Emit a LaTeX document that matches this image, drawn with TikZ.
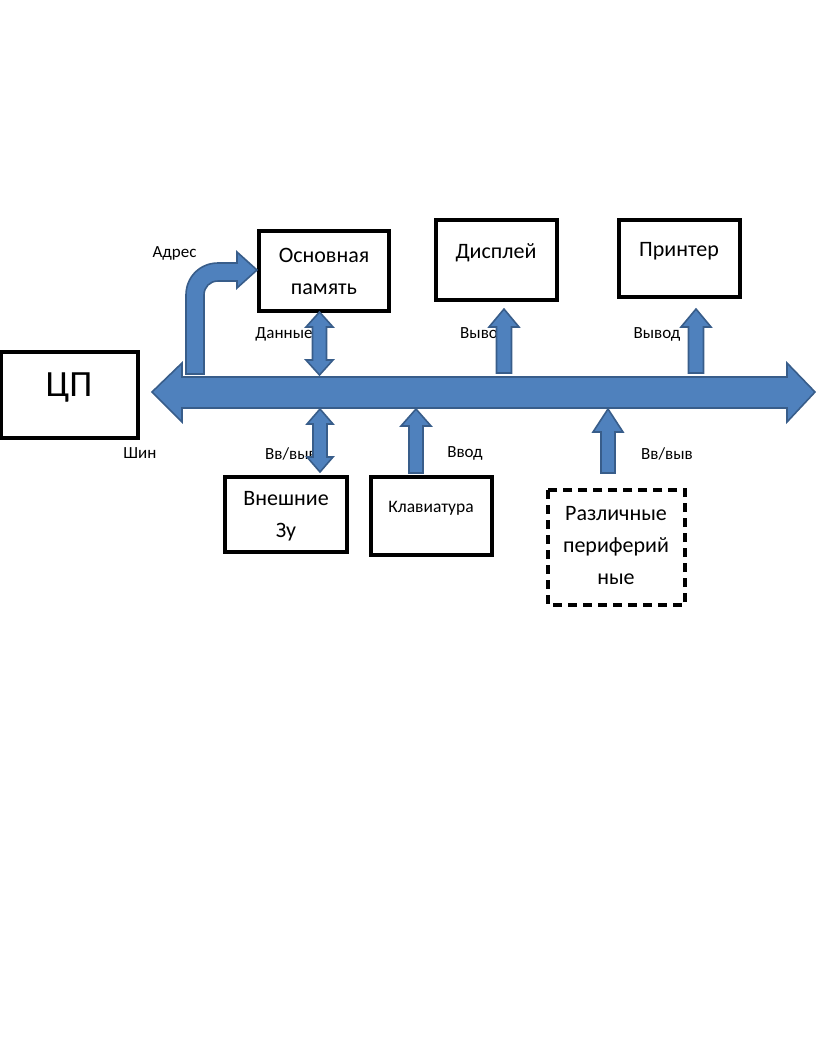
\documentclass[tikz,border=0pt]{standalone}
\usepackage{fontspec}
\setmainfont{Carlito}
\definecolor{arrfill}{HTML}{4F81BD}
\definecolor{arrdraw}{HTML}{385D8A}
\begin{document}
\begin{tikzpicture}[x=1pt,y=-1pt,
  box/.style={draw=black,line width=3.2pt,fill=white},
  dbox/.style={draw=black,line width=3.2pt,dash pattern=on 9pt off 6pt,fill=white},
  blk/.style={fill=arrfill,draw=arrdraw,line width=1.6pt,line join=miter},
  lbl/.style={font=\fontsize{17}{20}\selectfont,inner sep=0pt},
  btxt/.style={font=\fontsize{22}{32}\selectfont,align=center,inner sep=0pt}]
\useasboundingbox (0,0) rectangle (816,1053);

% boxes
\draw[box] (1.6,352) rectangle (138,438);
\draw[box] (259,231) rectangle (389,311);
\draw[box] (436,220) rectangle (557,300);
\draw[box] (619,220) rectangle (740,297);
\draw[box] (225,477) rectangle (347,552);
\draw[box] (371,477) rectangle (492,555);
\draw[dbox] (548,490) rectangle (685,605);

% box texts
\node[btxt,font=\fontsize{37}{40}\selectfont] (tcpu) at (69,388) {ЦП};
\node[btxt] (tmem) at (324,271) {Основная\\память};
\node[btxt] (tdisp) at (496,253) {Дисплей};
\node[btxt] (tprn) at (679,251) {Принтер};
\node[btxt] (text) at (286,516) {Внешние\\Зу};
\node[btxt,font=\fontsize{17.5}{18}\selectfont] (tkbd) at (431,508.5) {Клавиатура};
\node[btxt] (tper) at (616,546) {Различные\\периферий\\ные};

% labels
\node[lbl] (ladr) at (174.5,253.5) {Адрес};
\node[lbl] (ldat) at (284,334.5) {Данные};
\node[lbl,anchor=west] (lout1) at (460,334.5) {Вывод};
\node[lbl] (lout2) at (657,334) {Вывод};
\node[lbl] (lbus) at (140,453.5) {Шин};
\node[lbl,anchor=west] (lio1) at (265,453.5) {Вв/выв};
\node[lbl] (lin) at (465,453.5) {Ввод};
\node[lbl] (lio2) at (667,453.5) {Вв/выв};

% bus
\draw[blk] (152,392) -- (182,363) -- (182,377) -- (787,377) -- (787,363) -- (815,392)
  -- (787,422) -- (787,408) -- (182,408) -- (182,422) -- cycle;

% address bent arrow
\draw[blk] (186,374) -- (186,295) .. controls (186,277) and (200,263) .. (218,263)
  -- (237,263) -- (237,252) -- (257,270) -- (237,288) -- (237,281) -- (218,281)
  .. controls (210,281) and (204,287) .. (204,295) -- (204,374) -- cycle;

% data double arrow (memory)
\draw[blk] (319.5,312) -- (333,327) -- (326.5,327) -- (326.5,360) -- (333,360) -- (319.5,375)
  -- (306,360) -- (312.5,360) -- (312.5,327) -- (306,327) -- cycle;

% external storage double arrow
\draw[blk] (320,409) -- (333,424) -- (327,424) -- (327,457) -- (333,457) -- (320,472)
  -- (307,457) -- (313,457) -- (313,424) -- (307,424) -- cycle;

% display up arrow
\draw[blk] (504,309) -- (519,327) -- (511.5,327) -- (511.5,373) -- (496.5,373) -- (496.5,327)
  -- (489,327) -- cycle;

% printer up arrow
\draw[blk] (696,309) -- (711,327) -- (703.5,327) -- (703.5,373) -- (688.5,373) -- (688.5,327)
  -- (681,327) -- cycle;

% keyboard up arrow
\draw[blk] (416,409) -- (431,426) -- (423,426) -- (423,473) -- (409,473) -- (409,426)
  -- (401,426) -- cycle;

% peripherals up arrow
\draw[blk] (608,409) -- (623,432) -- (615,432) -- (615,473) -- (601,473) -- (601,432)
  -- (593,432) -- cycle;
\end{tikzpicture}
\end{document}
